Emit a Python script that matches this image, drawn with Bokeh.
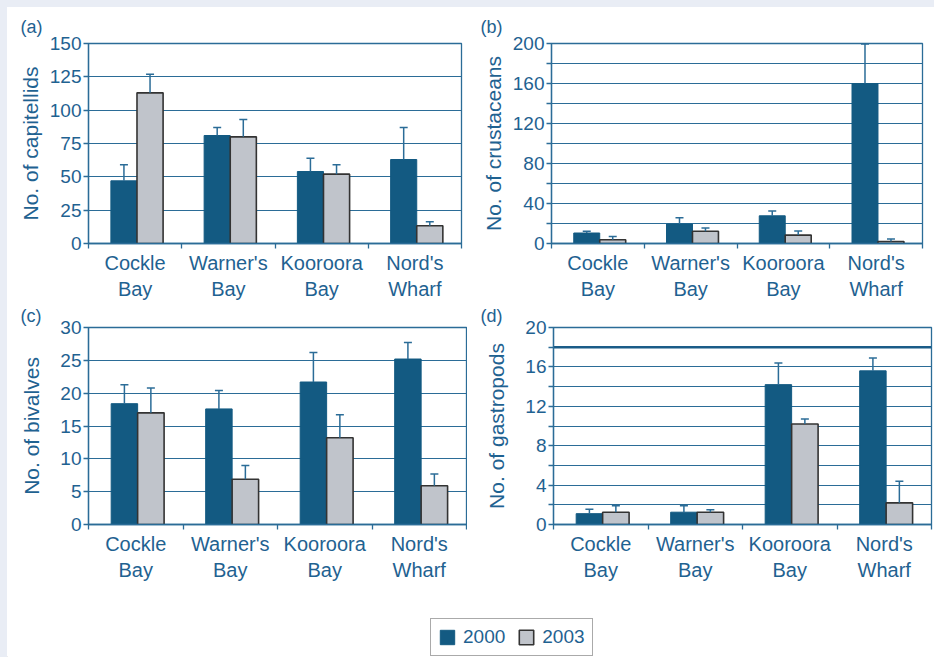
from bokeh.plotting import figure
from bokeh.models import (ColumnDataSource, Whisker, TeeHead, FixedTicker,
                          Legend, LegendItem, Range1d, Span, Spacer)
from bokeh.layouts import column, row
from bokeh.embed import file_html
from bokeh.resources import INLINE

# ---------------- data ----------------
sites = ["Cockle\nBay", "Warner's\nBay", "Kooroora\nBay", "Nord's\nWharf"]
years = ["2000", "2003"]

cap_2000 = [47, 81, 54, 63]
cap_2000_err = [12, 6, 10, 24]
cap_2003 = [113, 80, 52, 13.3]
cap_2003_err = [14, 13, 7, 3]

crus_2000 = [10.5, 19.5, 27.7, 160]
crus_2000_err = [1.7, 6.2, 4.7, 39.5]
crus_2003 = [3.7, 12.2, 8.4, 2.0]
crus_2003_err = [3.4, 3.3, 4.1, 2.4]

biv_2000 = [18.4, 17.6, 21.7, 25.2]
biv_2000_err = [2.9, 2.8, 4.5, 2.5]
biv_2003 = [17.0, 6.9, 13.2, 5.9]
biv_2003_err = [3.8, 2.1, 3.5, 1.8]

gas_2000 = [1.1, 1.25, 14.2, 15.6]
gas_2000_err = [0.45, 0.65, 2.2, 1.3]
gas_2003 = [1.25, 1.25, 10.2, 2.2]
gas_2003_err = [0.65, 0.25, 0.5, 2.2]

# ---------------- style ----------------
FONT = "Liberation Sans"
BLUE_TXT = "#1f6291"
GRID = "#2b6c97"
BAR_2000 = "#135a82"
BAR_2003 = "#c0c4cb"
OUTLINE_2003 = "#333333"
PAGE_BG = "#e9edf5"
BAR_W = 0.28
OFF_2000 = -0.12
OFF_2003 = 0.16
WHITE = {"background-color": "white"}


def panel(letter, ylabel, ymax, major, minor, v00, e00, v03, e03,
          width, height, borders, title_off, title_standoff, title_valign,
          ylab_standoff, extra_line=None):
    l, r, t, b = borders
    p = figure(width=width, height=height, output_backend="svg",
               toolbar_location=None, x_range=Range1d(0, 4),
               y_range=Range1d(0, ymax),
               min_border_left=l, min_border_right=r,
               min_border_top=t, min_border_bottom=b)
    p.background_fill_color = "white"
    p.border_fill_color = "white"
    p.outline_line_color = GRID
    p.outline_line_width = 1.3

    p.title.text = letter
    p.title.align = "left"
    p.title.offset = title_off
    p.title.standoff = title_standoff
    p.title.vertical_align = title_valign
    p.title.text_font = FONT
    p.title.text_font_size = "18px"
    p.title.text_font_style = "normal"
    p.title.text_color = BLUE_TXT

    centers = [i + 0.5 for i in range(len(sites))]
    x00 = [c + OFF_2000 for c in centers]
    x03 = [c + OFF_2003 for c in centers]
    s00 = ColumnDataSource(dict(x=x00, top=v00, up=[v + e for v, e in zip(v00, e00)]))
    s03 = ColumnDataSource(dict(x=x03, top=v03, up=[v + e for v, e in zip(v03, e03)]))

    p.vbar(x="x", top="top", bottom=0, width=BAR_W, source=s00,
           fill_color=BAR_2000, line_color=BAR_2000, line_width=1)
    p.vbar(x="x", top="top", bottom=0, width=BAR_W, source=s03,
           fill_color=BAR_2003, line_color=OUTLINE_2003, line_width=1.6)

    for s in (s00, s03):
        w = Whisker(base="x", lower="top", upper="up", source=s,
                    line_color=GRID, line_width=1.5, lower_head=None,
                    upper_head=TeeHead(size=8, line_color=GRID, line_width=1.5),
                    level="overlay")
        p.add_layout(w)

    if extra_line is not None:
        p.add_layout(Span(location=extra_line, dimension="width",
                          line_color="#1a5c88", line_width=2.4, level="underlay"))

    # x axis
    xa = p.xaxis[0]
    xa.ticker = FixedTicker(ticks=centers, minor_ticks=[0, 1, 2, 3, 4])
    xa.major_label_overrides = {c: s for c, s in zip(centers, sites)}
    xa.major_tick_line_color = None
    xa.major_tick_out = 0
    xa.minor_tick_line_color = GRID
    xa.minor_tick_out = 5
    xa.minor_tick_in = 0
    xa.minor_tick_line_width = 1.3
    xa.axis_line_color = GRID
    xa.axis_line_width = 1.3
    xa.major_label_text_font = FONT
    xa.major_label_text_font_size = "20px"
    xa.major_label_text_color = BLUE_TXT
    xa.major_label_standoff = 3
    p.xgrid.grid_line_color = None

    # y axis
    ya = p.yaxis[0]
    ya.ticker = FixedTicker(ticks=major, minor_ticks=minor)
    ya.major_tick_out = 5
    ya.major_tick_in = 0
    ya.minor_tick_out = 5
    ya.minor_tick_in = 0
    ya.major_tick_line_color = GRID
    ya.minor_tick_line_color = GRID
    ya.major_tick_line_width = 1.3
    ya.minor_tick_line_width = 1.3
    ya.axis_line_color = GRID
    ya.axis_line_width = 1.3
    ya.major_label_text_font = FONT
    ya.major_label_text_font_size = "19px"
    ya.major_label_text_color = BLUE_TXT
    ya.major_label_standoff = 2
    ya.axis_label = ylabel
    ya.axis_label_text_font = FONT
    ya.axis_label_text_font_size = "21px"
    ya.axis_label_text_font_style = "normal"
    ya.axis_label_text_color = BLUE_TXT
    ya.axis_label_standoff = ylab_standoff

    p.ygrid.grid_line_color = GRID
    p.ygrid.grid_line_width = 1.2
    p.ygrid.minor_grid_line_color = GRID if minor else None
    p.ygrid.minor_grid_line_width = 1.2
    return p


pa = panel("(a)", "No. of capitellids", 150, [0, 25, 50, 75, 100, 125, 150], [],
           cap_2000, cap_2000_err, cap_2003, cap_2003_err,
           460, 298, (81, 6, 34, 62), -68, 14, "bottom", 5)
pb = panel("(b)", "No. of crustaceans", 200, [0, 40, 80, 120, 160, 200],
           [20, 60, 100, 140, 180],
           crus_2000, crus_2000_err, crus_2003, crus_2003_err,
           467, 298, (84, 12, 36, 62), -71, 14, "bottom", 5)
pc = panel("(c)", "No. of bivalves", 30, [0, 5, 10, 15, 20, 25, 30], [],
           biv_2000, biv_2000_err, biv_2003, biv_2003_err,
           460, 287, (81, 1, 22, 67), -68, 0, "top", 14)
pd_ = panel("(d)", "No. of gastropods", 20, [0, 4, 8, 12, 16, 20],
            [2, 6, 10, 14, 18],
            gas_2000, gas_2000_err, gas_2003, gas_2003_err,
            467, 287, (86, 3, 21, 68), -73, 0, "top", 14, extra_line=18)

# legend strip (proxy glyphs sit outside the visible range)
pl = figure(width=927, height=65, output_backend="svg", toolbar_location=None,
            min_border=0, x_range=Range1d(0, 1), y_range=Range1d(0, 1))
pl.axis.visible = False
pl.grid.visible = False
pl.outline_line_color = None
pl.border_fill_color = "white"
proxy = ColumnDataSource(dict(x=[-5], top=[-5]))
r00 = pl.vbar(x="x", top="top", width=0.1, source=proxy,
              fill_color=BAR_2000, line_color=BAR_2000)
r03 = pl.vbar(x="x", top="top", width=0.1, source=proxy,
              fill_color=BAR_2003, line_color=OUTLINE_2003, line_width=1.6)
leg = Legend(items=[LegendItem(label=years[0], renderers=[r00]),
                    LegendItem(label=years[1], renderers=[r03])],
             orientation="horizontal", location=(423, 1),
             glyph_width=18, glyph_height=18, label_standoff=7, spacing=12,
             padding=7, margin=0,
             label_text_font=FONT, label_text_font_size="19px",
             label_text_color=BLUE_TXT,
             border_line_color="#555555", border_line_width=1.5,
             background_fill_color="white", background_fill_alpha=1)
pl.add_layout(leg)

charts = column(row(pa, pb, spacing=0, styles=WHITE),
                row(pc, pd_, spacing=0, styles=WHITE),
                pl, spacing=0, styles=WHITE)
layout = column(Spacer(width=934, height=7),
                row(Spacer(width=7, height=650), charts, spacing=0),
                spacing=0, styles={"background-color": PAGE_BG})

open("out.html", "w").write(file_html(layout, INLINE))
